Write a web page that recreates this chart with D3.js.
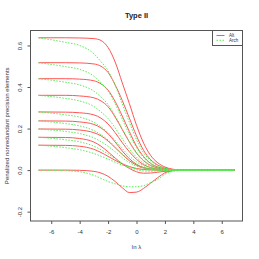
<!DOCTYPE html>
<html>
<head>
<meta charset="utf-8">
<script src="https://cdn.jsdelivr.net/npm/d3@7"></script>
<style>
  body { margin: 0; background: #fff; }
  svg { display: block; font-family: "Liberation Sans", Arial, sans-serif; }
</style>
</head>
<body>
<svg width="259" height="259"></svg>
<script>
// x values shared by every path (ln lambda)
var lnLambda = [-6.9, -5, -4, -3, -2.5, -2, -1.5, -1, -0.5, 0, 0.5, 1, 1.5, 2, 2.5, 3, 4, 5, 6.9];

// "Alt" paths, one row per precision element
var altPaths = [
    [0.637, 0.637, 0.636, 0.633, 0.624, 0.59, 0.52, 0.42, 0.32, 0.216, 0.13, 0.07, 0.035, 0.015, 0.005, 0.001, 0, 0, 0],
    [0.517, 0.517, 0.516, 0.511, 0.5, 0.47, 0.41, 0.335, 0.25, 0.165, 0.095, 0.05, 0.024, 0.01, 0.003, 0.001, 0, 0, 0],
    [0.44, 0.44, 0.438, 0.43, 0.415, 0.385, 0.33, 0.26, 0.185, 0.115, 0.065, 0.032, 0.015, 0.006, 0.002, 0, 0, 0, 0],
    [0.36, 0.36, 0.357, 0.348, 0.333, 0.305, 0.255, 0.195, 0.135, 0.082, 0.045, 0.022, 0.01, 0.004, 0.001, 0, 0, 0, 0],
    [0.28, 0.279, 0.276, 0.266, 0.25, 0.222, 0.18, 0.132, 0.088, 0.052, 0.026, 0.012, 0.005, 0.002, 0.001, 0, 0, 0, 0],
    [0.237, 0.236, 0.232, 0.22, 0.203, 0.175, 0.135, 0.092, 0.055, 0.028, 0.012, 0.005, 0.002, 0.001, 0, 0, 0, 0, 0],
    [0.198, 0.197, 0.193, 0.18, 0.165, 0.14, 0.108, 0.075, 0.045, 0.024, 0.011, 0.005, 0.002, 0.001, 0, 0, 0, 0, 0],
    [0.158, 0.157, 0.152, 0.135, 0.115, 0.088, 0.058, 0.03, 0.008, -0.008, -0.015, -0.014, -0.01, -0.006, -0.003, -0.001, 0, 0, 0],
    [0.12, 0.119, 0.115, 0.1, 0.085, 0.066, 0.047, 0.03, 0.017, 0.008, 0.003, 0.001, 0, 0, 0, 0, 0, 0, 0],
    [0, 0, -0.001, -0.006, -0.014, -0.03, -0.055, -0.085, -0.108, -0.106, -0.088, -0.062, -0.036, -0.013, -0.003, 0, 0, 0, 0]
];

// "Arch" paths, same elements
var archPaths = [
    [0.637, 0.615, 0.6, 0.56, 0.522, 0.478, 0.408, 0.318, 0.23, 0.147, 0.083, 0.045, 0.022, 0.01, 0.003, 0.001, 0, 0, 0],
    [0.517, 0.498, 0.485, 0.452, 0.42, 0.38, 0.32, 0.245, 0.172, 0.108, 0.06, 0.032, 0.015, 0.006, 0.002, 0.001, 0, 0, 0],
    [0.44, 0.423, 0.41, 0.38, 0.352, 0.315, 0.262, 0.198, 0.137, 0.085, 0.047, 0.024, 0.011, 0.004, 0.001, 0, 0, 0, 0],
    [0.36, 0.345, 0.333, 0.306, 0.28, 0.248, 0.203, 0.15, 0.102, 0.062, 0.033, 0.016, 0.007, 0.003, 0.001, 0, 0, 0, 0],
    [0.28, 0.266, 0.255, 0.23, 0.208, 0.18, 0.143, 0.103, 0.068, 0.04, 0.021, 0.01, 0.004, 0.001, 0, 0, 0, 0, 0],
    [0.237, 0.224, 0.213, 0.19, 0.17, 0.145, 0.112, 0.078, 0.048, 0.026, 0.012, 0.004, 0.001, 0, 0, 0, 0, 0, 0],
    [0.198, 0.186, 0.176, 0.155, 0.137, 0.115, 0.088, 0.06, 0.036, 0.019, 0.009, 0.004, 0.001, 0, 0, 0, 0, 0, 0],
    [0.158, 0.146, 0.136, 0.115, 0.098, 0.078, 0.055, 0.032, 0.014, 0.002, -0.004, -0.005, -0.004, -0.002, -0.001, 0, 0, 0, 0],
    [0.12, 0.108, 0.098, 0.08, 0.067, 0.053, 0.038, 0.024, 0.013, 0.006, 0.002, 0.001, 0, 0, 0, 0, 0, 0, 0],
    [0, -0.003, -0.008, -0.025, -0.04, -0.055, -0.066, -0.076, -0.08, -0.08, -0.075, -0.06, -0.044, -0.02, -0.007, -0.002, 0, 0, 0]
];

var xTicks = [-6, -4, -2, 0, 2, 4, 6];
var yTicks = [-0.2, 0, 0.2, 0.4, 0.6];
var legendNames = ["Alt", "Arch"];

var altColor = "#ff5555",
    archColor = "#55ee55";

var svg = d3.select("svg");

var plot = { left: 30.5, right: 242.5, top: 30.5, bottom: 221 };

var x = d3.scaleLinear()
    .domain([-7.46, 7.46])
    .range([plot.left, plot.right]);

var y = d3.scaleLinear()
    .domain([-0.245, 0.672])
    .range([plot.bottom, plot.top]);

var line = d3.line()
    .x(function(d, i) { return x(lnLambda[i]); })
    .y(function(d) { return y(d); })
    .curve(d3.curveMonotoneX);

var g = svg.append("g");

g.selectAll(".alt")
    .data(altPaths)
    .enter().append("path")
    .attr("class", "alt")
    .attr("d", line)
    .attr("fill", "none")
    .attr("stroke", altColor)
    .attr("stroke-width", 1);

g.selectAll(".arch")
    .data(archPaths)
    .enter().append("path")
    .attr("class", "arch")
    .attr("d", line)
    .attr("fill", "none")
    .attr("stroke", archColor)
    .attr("stroke-dasharray", "1.5,1.5")
    .attr("stroke-width", 1);

// frame
svg.append("rect")
    .attr("x", plot.left)
    .attr("y", plot.top)
    .attr("width", plot.right - plot.left)
    .attr("height", plot.bottom - plot.top)
    .attr("fill", "none")
    .attr("stroke", "#555")
    .attr("stroke-width", 1);

// axes, R style
var xAxis = svg.append("g")
    .attr("transform", "translate(0," + plot.bottom + ")")
    .call(d3.axisBottom(x).tickValues(xTicks).tickSize(3).tickPadding(6)
        .tickFormat(function(d) { return d3.format("d")(d).replace("−", "-"); }));
xAxis.select(".domain").remove();
xAxis.selectAll("text").attr("font-size", 6).attr("fill", "#333").attr("font-family", "Liberation Sans, Arial, sans-serif");
xAxis.selectAll("line").attr("stroke", "#555");

var yAxis = svg.append("g")
    .attr("transform", "translate(" + plot.left + ",0)")
    .call(d3.axisLeft(y).tickValues(yTicks).tickSize(3)
        .tickFormat(function(d) { return d3.format(".1f")(d).replace("−", "-"); }));
yAxis.select(".domain").remove();
yAxis.selectAll("line").attr("stroke", "#555");
yAxis.selectAll("text")
    .attr("font-size", 6)
    .attr("fill", "#333")
    .attr("font-family", "Liberation Sans, Arial, sans-serif")
    .attr("x", null)
    .attr("dy", null)
    .attr("text-anchor", "middle")
    .attr("transform", "translate(-10.5,0) rotate(-90)")
    .attr("dominant-baseline", "middle");

// titles
svg.append("text")
    .attr("x", 136.5)
    .attr("y", 18)
    .attr("text-anchor", "middle")
    .attr("font-size", 7.5)
    .attr("font-weight", "bold")
    .attr("fill", "#222")
    .text("Type II");

svg.append("text")
    .attr("x", 136.5)
    .attr("y", 249)
    .attr("text-anchor", "middle")
    .attr("font-size", 6)
    .attr("fill", "#333")
    .text("ln λ");

svg.append("text")
    .attr("transform", "translate(9," + ((plot.top + plot.bottom) / 2) + ") rotate(-90)")
    .attr("text-anchor", "middle")
    .attr("font-size", 6)
    .attr("fill", "#333")
    .text("Penalized nonredundant precision elements");

// legend
var legend = svg.append("g").attr("transform", "translate(212.5,30.5)");
legend.append("rect")
    .attr("width", 30)
    .attr("height", 15)
    .attr("fill", "#fff")
    .attr("stroke", "#555")
    .attr("stroke-width", 1);

legend.selectAll(".key")
    .data(legendNames)
    .enter().append("line")
    .attr("x1", 4)
    .attr("x2", 12)
    .attr("y1", function(d, i) { return 5 + i * 4.8; })
    .attr("y2", function(d, i) { return 5 + i * 4.8; })
    .attr("stroke", function(d, i) { return i == 0 ? altColor : archColor; })
    .attr("stroke-dasharray", function(d, i) { return i == 0 ? null : "1.5,1.5"; })
    .attr("stroke-width", 1);

legend.selectAll(".lab")
    .data(legendNames)
    .enter().append("text")
    .attr("x", 16.5)
    .attr("y", function(d, i) { return 5 + i * 4.8; })
    .attr("dy", "0.35em")
    .attr("font-size", 4.5)
    .attr("fill", "#333")
    .text(function(d) { return d; });
</script>
</body>
</html>
